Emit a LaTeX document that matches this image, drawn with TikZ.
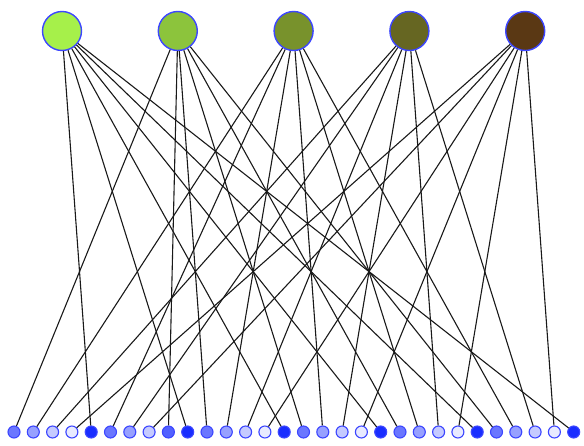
\documentclass[tikz,border=0pt]{standalone}
\usepackage{tikz}
\usepackage{color}

\definecolor{dotblue}{RGB}{25,45,255}
\definecolor{rimblue}{RGB}{60,70,255}
\definecolor{greenA}{RGB}{166,240,74}
\definecolor{greenB}{RGB}{140,196,60}
\definecolor{greenC}{RGB}{120,146,44}
\definecolor{greenD}{RGB}{102,102,34}
\definecolor{greenE}{RGB}{90,56,20}

\tikzset{
  topnode/.style={circle, draw=rimblue, line width=1.4pt, minimum size=39pt, inner sep=0pt},
  leafnode/.style={circle, draw=rimblue, line width=1.1pt, minimum size=12pt, inner sep=0pt},
  edge/.style={line width=1.1pt, black!90}
}

\begin{document}
\begin{tikzpicture}[x=1pt, y=-1pt]
            \useasboundingbox (0, 0) rectangle (584, 446);
            % upper row
            \foreach \k/\col in {1/greenA, 2/greenB, 3/greenC, 4/greenD, 5/greenE}
                \node[topnode, fill=\col] (t\k) at ({62 + 115.8*(\k-1)}, 31) {};
            % lower row, shade of each dot
            \foreach \i/\s in {1/65, 2/45, 3/25, 4/10, 5/100, 6/65, 7/45, 8/25, 9/75, 10/100,
                               11/65, 12/45, 13/25, 14/10, 15/100, 16/65, 17/45, 18/25, 19/10, 20/100,
                               21/65, 22/45, 23/25, 24/10, 25/100, 26/65, 27/45, 28/25, 29/10, 30/100}
                \node[leafnode, fill=dotblue!\s!white] (b\i) at ({14 + 19.3*(\i-1)}, 432) {};
            % which upper node each dot hangs from
            \foreach \i/\k in {1/2, 2/3, 3/4, 4/5, 5/1, 6/3, 7/4, 8/5, 9/2, 10/1,
                               11/2, 12/3, 13/4, 14/5, 15/1, 16/2, 17/3, 18/4, 19/5, 20/1,
                               21/2, 22/3, 23/4, 24/5, 25/1, 26/2, 27/3, 28/4, 29/5, 30/1}
                \draw[edge] (t\k) -- (b\i);
        \end{tikzpicture}
\end{document}
